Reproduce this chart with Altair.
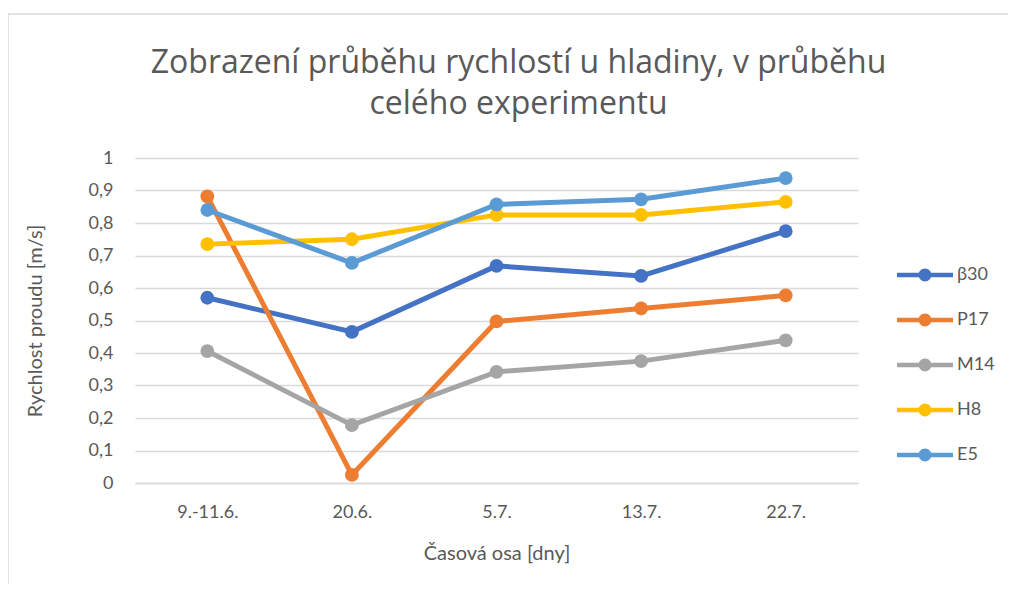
import altair as alt
import pandas as pd

dates = ["9.-11.6.", "20.6.", "5.7.", "13.7.", "22.7."]
series_names = ["β30", "P17", "M14", "H8", "E5"]
b30 = [0.570, 0.465, 0.668, 0.637, 0.775]
p17 = [0.882, 0.025, 0.497, 0.537, 0.577]
m14 = [0.406, 0.178, 0.342, 0.375, 0.439]
h8 = [0.735, 0.750, 0.825, 0.825, 0.865]
e5 = [0.840, 0.677, 0.857, 0.873, 0.938]
colors = ["#4472C4", "#ED7D31", "#A5A5A5", "#FFC000", "#5B9BD5"]
y_ticks = [0, 0.1, 0.2, 0.3, 0.4, 0.5, 0.6, 0.7, 0.8, 0.9, 1]

rows = []
for name, vals in zip(series_names, [b30, p17, m14, h8, e5]):
    for d, v in zip(dates, vals):
        rows.append({"serie": name, "datum": d, "v": v})
df = pd.DataFrame(rows)

FONT = "Lato"
TXT = "#595959"

x_enc = alt.X("datum:N", sort=dates, scale=alt.Scale(type="point", padding=0.5),
              axis=alt.Axis(title="Časová osa [dny]", ticks=False, labelAngle=0,
                            labelPadding=20, domainColor="#d9d9d9", domainWidth=1.5,
                            titleY=70, titleX=361.5, titleBaseline="middle",
                            grid=False))
y_enc = alt.Y("v:Q", scale=alt.Scale(domain=[0, 1], nice=False),
              axis=alt.Axis(title="Rychlost proudu [m/s]", values=y_ticks, ticks=False,
                            domain=False, labelPadding=22, gridColor="#d9d9d9", gridWidth=1.5,
                            labelExpr="replace(format(datum.value, '~g'), '.', ',')",
                            titleX=-100, titleY=162.5, titleAngle=270,
                            titleBaseline="middle", titleAlign="center"))
scale = alt.Scale(domain=series_names, range=colors)

legend_path = ("M-2,-0.16 L2,-0.16 L2,0.16 L-2,0.16 Z "
               "M0.46,0 A0.46,0.46 0 1,1 -0.46,0 A0.46,0.46 0 1,1 0.46,0 Z")

def make_legend():
    return alt.Legend(title=None, orient="none", legendX=776, legendY=103,
                      symbolType=legend_path, symbolSize=784,
                      symbolStrokeWidth=0, symbolOpacity=1,
                      labelOffset=18, rowPadding=22,
                      padding=0, labelFontSize=18, labelColor=TXT,
                      labelFont=FONT)

lines = alt.Chart(df).mark_line(strokeWidth=5).encode(
    x=x_enc, y=y_enc,
    color=alt.Color("serie:N", scale=scale, sort=series_names, legend=make_legend()),
    detail="serie:N",
)
points = alt.Chart(df).mark_point(filled=True, size=190, opacity=1).encode(
    x=x_enc, y=y_enc,
    color=alt.Color("serie:N", scale=scale, sort=series_names, legend=make_legend()),
)

border = alt.Chart(alt.Data(values=[{}])).mark_rect(
    fill=None, stroke="#d9d9d9", strokeWidth=1.5
).encode(x=alt.value(-127), x2=alt.value(900), y=alt.value(-144), y2=alt.value(500))

chart = alt.layer(border, lines, points).properties(
    width=723, height=325,
    title=alt.Title(["Zobrazení průběhu rychlostí u hladiny, v průběhu", "celého experimentu"],
                    fontSize=32, font="Open Sans", color=TXT, fontWeight="normal", lineHeight=41,
                    anchor="middle", dx=22, offset=-108),
    autosize=alt.AutoSizeParams(type="none"),
    padding={"left": 127, "top": 150, "right": 150, "bottom": 101},
).configure_axis(
    labelFont=FONT, labelFontSize=18, labelColor=TXT,
    titleFont=FONT, titleFontSize=20, titleColor=TXT, titleFontWeight="normal",
).configure_view(stroke=None)

chart.save("out.html", embed_options={"renderer": "svg", "actions": False})
